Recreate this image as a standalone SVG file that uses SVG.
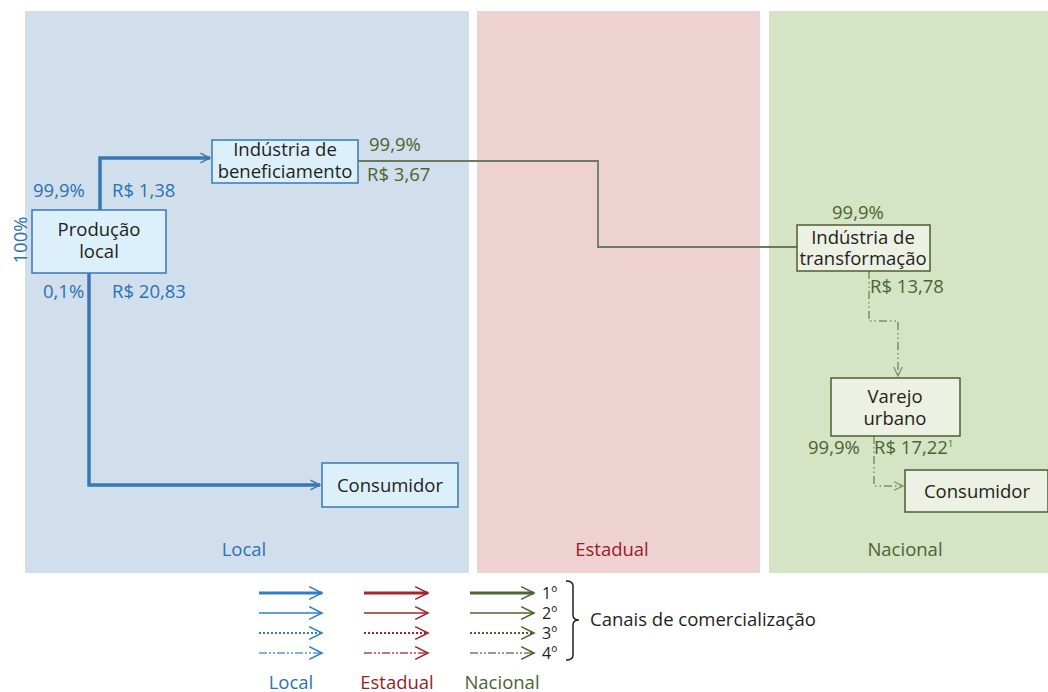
<svg xmlns="http://www.w3.org/2000/svg" width="1048" height="692" viewBox="0 0 1048 692">
<style>
text{font-family:"Open Sans","Noto Sans","Liberation Sans",sans-serif;font-size:18.5px}
.k{fill:#231f20}
.b{fill:#2a72b5}
.r{fill:#9b1c22}
.g{fill:#4b6430}
.o{font-size:16px}
.nb rect{fill:#dcf0fb;stroke:#3a78b5;stroke-width:1.5}
.ng rect{fill:#ecf1e3;stroke:#4b5f35;stroke-width:1.5}
.mid{text-anchor:middle}
</style>
<defs>
<marker id="mb" viewBox="0 0 20 20" refX="18" refY="10" markerWidth="12" markerHeight="12" orient="auto" markerUnits="userSpaceOnUse"><path d="M2,2 L18,10 L2,18" fill="none" stroke="#3a78b5" stroke-width="2.5"/></marker>
<marker id="lb" viewBox="0 0 20 20" refX="18" refY="10" markerWidth="16" markerHeight="16" orient="auto" markerUnits="userSpaceOnUse"><path d="M2,2 L18,10 L2,18" fill="none" stroke="#2e7fc4" stroke-width="2"/></marker>
<marker id="lr" viewBox="0 0 20 20" refX="18" refY="10" markerWidth="16" markerHeight="16" orient="auto" markerUnits="userSpaceOnUse"><path d="M2,2 L18,10 L2,18" fill="none" stroke="#a2262a" stroke-width="2"/></marker>
<marker id="lg" viewBox="0 0 20 20" refX="18" refY="10" markerWidth="16" markerHeight="16" orient="auto" markerUnits="userSpaceOnUse"><path d="M2,2 L18,10 L2,18" fill="none" stroke="#4b6430" stroke-width="2"/></marker>
<marker id="sg" viewBox="0 0 20 20" refX="18" refY="10" markerWidth="12" markerHeight="12" orient="auto" markerUnits="userSpaceOnUse"><path d="M3,3 L18,10 L3,17" fill="none" stroke="#7d9068" stroke-width="2"/></marker>
</defs>

<g id="panels">
<rect x="25" y="11" width="444" height="562" fill="#d0dfeb"/>
<rect x="477" y="11" width="283" height="562" fill="#eed2d2"/>
<rect x="769" y="11" width="279" height="562" fill="#d5e4c5"/>
<text x="244" y="556" class="b mid">Local</text>
<text x="612" y="556" class="r mid">Estadual</text>
<text x="905" y="556" class="g mid">Nacional</text>
</g>

<g id="connectors" fill="none">
<path d="M100,210 V158 H210" stroke="#3a78b5" stroke-width="3.5" marker-end="url(#mb)"/>
<path d="M89,273 V485 H320" stroke="#3a78b5" stroke-width="3.5" marker-end="url(#mb)"/>
<path d="M358,161 H598 V247 H797" stroke="#6b7a5e" stroke-width="1.8"/>
<path d="M869,271 V321 H898 V376" stroke="#7d9068" stroke-width="1.5" stroke-dasharray="8,3,1.5,3,1.5,3" marker-end="url(#sg)"/>
<path d="M874,436 V486 H903" stroke="#7d9068" stroke-width="1.5" stroke-dasharray="8,3,1.5,3,1.5,3" marker-end="url(#sg)"/>
</g>

<g id="labels">
<text transform="translate(27,240) rotate(-90)" class="b mid">100%</text>
<text x="33" y="197" class="b">99,9%</text>
<text x="112" y="197" class="b">R$ 1,38</text>
<text x="43" y="298" class="b">0,1%</text>
<text x="112" y="298" class="b">R$ 20,83</text>
<text x="369" y="151" class="g">99,9%</text>
<text x="367" y="181" class="g">R$ 3,67</text>
<text x="832" y="219" class="g">99,9%</text>
<text x="870" y="293" class="g">R$ 13,78</text>
<text x="808" y="454" class="g">99,9%</text>
<text x="874" y="454" class="g">R$ 17,22<tspan font-size="9" dy="-7">1</tspan></text>
</g>

<g id="producao" class="nb">
<rect x="32" y="210" width="134" height="63"/>
<text x="99" y="236" class="k mid">Produção</text>
<text x="99" y="258" class="k mid">local</text>
</g>
<g id="beneficiamento" class="nb">
<rect x="212" y="140" width="146" height="43"/>
<text x="285" y="156" class="k mid">Indústria de</text>
<text x="285" y="178" class="k mid">beneficiamento</text>
</g>
<g id="consumidor-local" class="nb">
<rect x="322" y="463" width="136" height="44"/>
<text x="390" y="492" class="k mid">Consumidor</text>
</g>
<g id="transformacao" class="ng">
<rect x="797" y="225" width="133" height="46"/>
<text x="863" y="244" class="k mid">Indústria de</text>
<text x="863" y="265" class="k mid">transformação</text>
</g>
<g id="varejo" class="ng">
<rect x="831" y="378" width="129" height="58"/>
<text x="895" y="403" class="k mid">Varejo</text>
<text x="895" y="425" class="k mid">urbano</text>
</g>
<g id="consumidor-nacional" class="ng">
<rect x="905" y="470" width="143" height="42"/>
<text x="977" y="498" class="k mid">Consumidor</text>
</g>

<g id="legend" fill="none">
<path d="M259,593 H322" stroke="#2e7fc4" stroke-width="3" marker-end="url(#lb)"/>
<path d="M259,613 H322" stroke="#2e7fc4" stroke-width="1.5" marker-end="url(#lb)"/>
<path d="M259,633 H322" stroke="#2e7fc4" stroke-width="2" stroke-dasharray="2,2" marker-end="url(#lb)"/>
<path d="M259,653 H322" stroke="#5a9bd0" stroke-width="1.5" stroke-dasharray="8,2,2,2,2,2" marker-end="url(#lb)"/>
<path d="M364,593 H428" stroke="#a2262a" stroke-width="3" marker-end="url(#lr)"/>
<path d="M364,613 H428" stroke="#a2262a" stroke-width="1.5" marker-end="url(#lr)"/>
<path d="M364,633 H428" stroke="#a2262a" stroke-width="2" stroke-dasharray="2,2" marker-end="url(#lr)"/>
<path d="M364,653 H428" stroke="#b04a4d" stroke-width="1.5" stroke-dasharray="8,2,2,2,2,2" marker-end="url(#lr)"/>
<path d="M470,593 H534" stroke="#4b6430" stroke-width="3" marker-end="url(#lg)"/>
<path d="M470,613 H534" stroke="#4b6430" stroke-width="1.5" marker-end="url(#lg)"/>
<path d="M470,633 H534" stroke="#4b6430" stroke-width="2" stroke-dasharray="2,2" marker-end="url(#lg)"/>
<path d="M470,653 H534" stroke="#6f8458" stroke-width="1.5" stroke-dasharray="8,2,2,2,2,2" marker-end="url(#lg)"/>
<path d="M566,581 Q573,581 573,586 V615 Q573,620 579,620 Q573,620 573,625 V655 Q573,660 566,660" stroke="#231f20" stroke-width="1.5"/>
<text x="542" y="599" class="k o">1º</text>
<text x="542" y="619" class="k o">2º</text>
<text x="542" y="639" class="k o">3º</text>
<text x="542" y="659" class="k o">4º</text>
<text x="590" y="626" class="k">Canais de comercialização</text>
<text x="291" y="689" class="b mid">Local</text>
<text x="397" y="689" class="r mid">Estadual</text>
<text x="502" y="689" class="g mid">Nacional</text>
</g>
</svg>
